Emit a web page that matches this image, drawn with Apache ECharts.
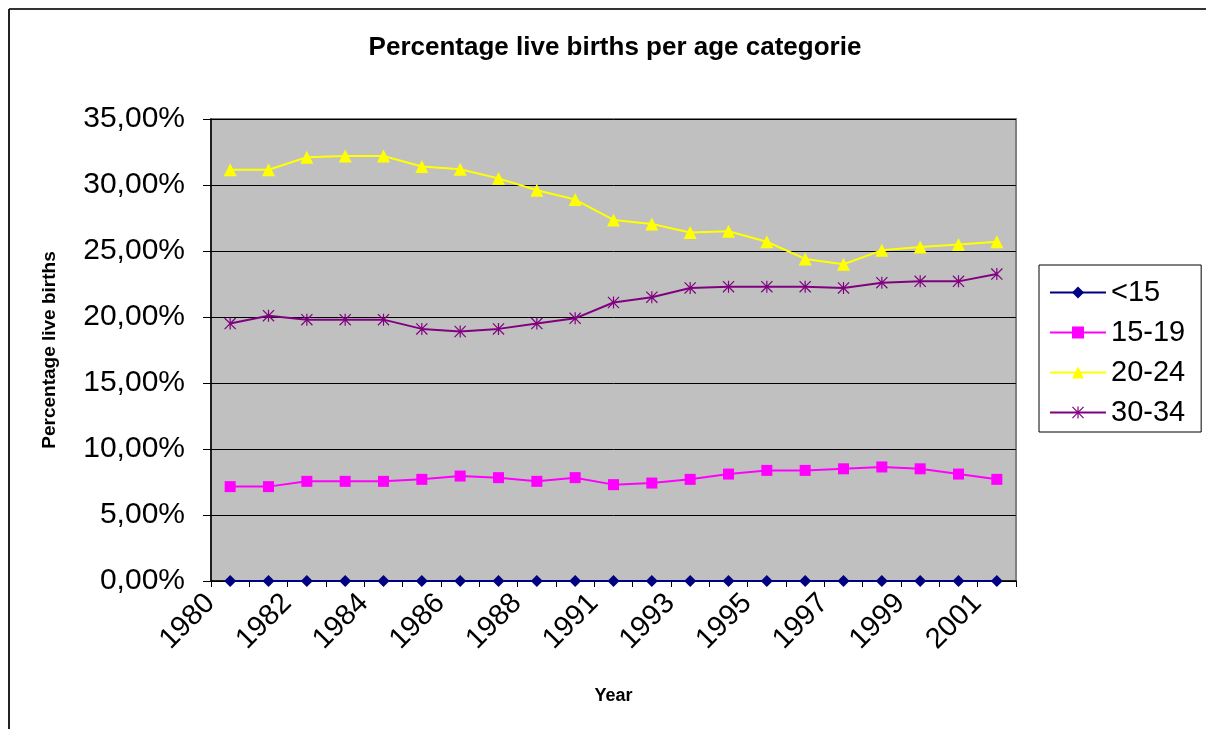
<!DOCTYPE html>
<html>
<head>
<meta charset="utf-8">
<script src="https://cdn.jsdelivr.net/npm/echarts@6/dist/echarts.min.js"></script>
<style>
  html, body { margin: 0; padding: 0; background: #ffffff; }
  #chart { width: 1206px; height: 729px; }
</style>
</head>
<body>
<div id="chart"></div>
<script>
// Years on the category axis (1990 is not in the series)
var years = ['1980','1981','1982','1983','1984','1985','1986','1987','1988','1989',
             '1991','1992','1993','1994','1995','1996','1997','1998','1999','2000','2001'];

// Share of live births per age group of the mother, in percent
var under15 = [0,0,0,0,0,0,0,0,0,0,0,0,0,0,0,0,0,0,0,0,0];
var age15to19 = [7.15,7.15,7.55,7.55,7.55,7.7,7.95,7.83,7.55,7.83,
                 7.3,7.42,7.7,8.1,8.38,8.38,8.5,8.64,8.5,8.1,7.7];
var age20to24 = [31.15,31.15,32.1,32.2,32.2,31.4,31.2,30.5,29.6,28.9,
                 27.35,27.05,26.4,26.5,25.7,24.4,24.0,25.05,25.3,25.5,25.7];
var age30to34 = [19.5,20.1,19.8,19.8,19.8,19.1,18.9,19.1,19.5,19.9,
                 21.1,21.5,22.2,22.3,22.3,22.3,22.2,22.6,22.7,22.7,23.25];

var seriesNames = ['<15', '15-19', '20-24', '30-34'];

// Asterisk marker: a vertical bar crossed by two diagonal bars
var starPath = 'path://M9 0L11 0L11 20L9 20Z' +
               'M0 1.4L1.4 0L20 18.6L18.6 20Z' +
               'M18.6 0L20 1.4L1.4 20L0 18.6Z';

function pct(v) {
  return v.toFixed(2).replace('.', ',') + '%';
}

var font = '"Liberation Sans", Arial, sans-serif';

function lineSeries(name, data, color, symbol, size) {
  return {
    name: name,
    type: 'line',
    data: data,
    symbol: symbol,
    symbolSize: size,
    showAllSymbol: true,
    lineStyle: { color: color, width: 2 },
    itemStyle: { color: color },
    emphasis: { disabled: true },
    animation: false
  };
}

var chart = echarts.init(document.getElementById('chart'), null, { renderer: 'canvas' });

chart.setOption({
  backgroundColor: '#ffffff',
  animation: false,
  title: {
    text: 'Percentage live births per age categorie',
    left: 610,
    top: 30,
    textAlign: 'center',
    textStyle: { fontFamily: font, fontWeight: 'bold', fontSize: 26, color: '#000' }
  },
  graphic: [
    // chart frame: top and left edges
    { type: 'line', shape: { x1: 9, y1: 9, x2: 1206, y2: 9 }, style: { stroke: '#333', lineWidth: 2 }, silent: true },
    { type: 'line', shape: { x1: 9, y1: 9, x2: 9, y2: 729 }, style: { stroke: '#222', lineWidth: 2 }, silent: true }
  ],
  legend: {
    orient: 'vertical',
    left: 1039,
    top: 265,
    data: seriesNames,
    itemWidth: 56,
    itemHeight: 15,
    itemGap: 11,
    padding: [13, 16, 5, 10],
    borderColor: '#000',
    borderWidth: 1,
    backgroundColor: '#fff',
    textStyle: { fontFamily: font, fontSize: 29, color: '#000' }
  },
  grid: {
    left: 211,
    right: 190,
    top: 119,
    bottom: 148,
    show: true,
    backgroundColor: '#c0c0c0',
    borderColor: '#808080',
    borderWidth: 2
  },
  xAxis: {
    type: 'category',
    data: years,
    boundaryGap: true,
    name: 'Year',
    nameLocation: 'middle',
    nameGap: 106,
    nameTextStyle: { fontFamily: font, fontWeight: 'bold', fontSize: 18, color: '#000' },
    axisLine: { lineStyle: { color: '#000', width: 1.5 } },
    axisTick: { show: true, alignWithLabel: false, interval: 0, length: 6, lineStyle: { color: '#000' } },
    axisLabel: {
      interval: 1,
      rotate: 45,
      margin: -2,
      padding: [0, 28, 0, 0],
      fontFamily: font,
      fontSize: 29,
      color: '#000'
    },
    splitLine: { show: false }
  },
  yAxis: {
    type: 'value',
    min: 0,
    max: 35,
    interval: 5,
    name: 'Percentage live births',
    nameLocation: 'middle',
    nameGap: 152,
    nameRotate: 90,
    nameTextStyle: { fontFamily: font, fontWeight: 'bold', fontSize: 19, color: '#000' },
    axisLine: { show: true, lineStyle: { color: '#000', width: 1.5 } },
    axisTick: { show: true, length: 8, lineStyle: { color: '#000' } },
    axisLabel: {
      margin: 26,
      formatter: pct,
      fontFamily: font,
      fontSize: 30,
      color: '#000'
    },
    splitLine: { show: true, lineStyle: { color: '#000', width: 1 } }
  },
  series: [
    lineSeries('<15', under15, '#000080', 'diamond', 12),
    lineSeries('15-19', age15to19, '#ff00ff', 'rect', 11),
    lineSeries('20-24', age20to24, '#ffff00', 'triangle', 13),
    lineSeries('30-34', age30to34, '#800080', starPath, 12)
  ]
});
</script>
</body>
</html>
